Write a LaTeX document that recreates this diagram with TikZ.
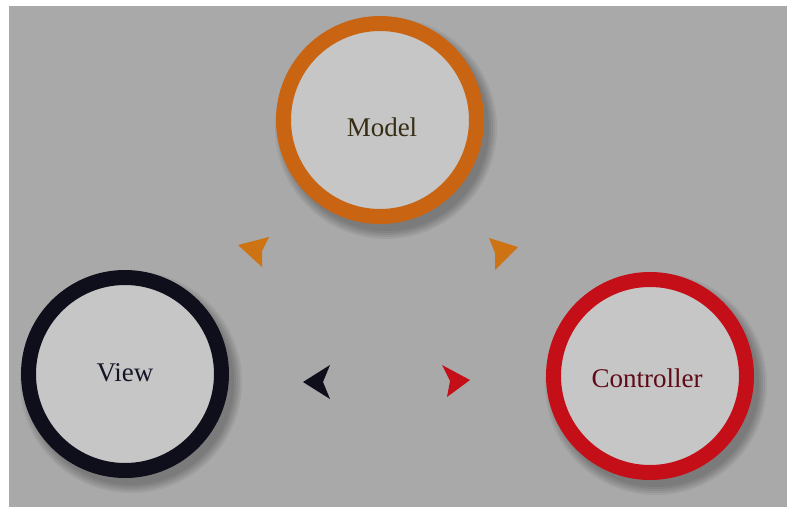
\documentclass[tikz,border=0pt]{standalone}
\usepackage{fontspec}
\setmainfont{Liberation Serif}
\definecolor{bg}{RGB}{169,169,169}
\definecolor{inner}{RGB}{198,198,198}
\definecolor{morange}{RGB}{200,100,18}
\definecolor{mtext}{RGB}{55,45,20}
\definecolor{vblack}{RGB}{15,15,28}
\definecolor{vtext}{RGB}{20,22,40}
\definecolor{cred}{RGB}{196,15,25}
\definecolor{ctext}{RGB}{95,10,22}
\definecolor{aorange}{RGB}{205,115,20}
\tikzset{
  ring/.style={circle, inner sep=0pt, minimum size=193pt, line width=15pt, fill=inner},
  lbl/.style={font=\fontsize{27}{30}\selectfont, inner sep=0pt},
  shad/.style={fill=black, opacity=0.06},
}
\begin{document}
\begin{tikzpicture}[x=1pt,y=-1pt]
\useasboundingbox (0,0) rectangle (787,507);
\fill[white] (0,0) rectangle (787,507);
\fill[bg] (9,6) rectangle (787,507);
% shadows
\foreach \cx/\cy in {380/120,125/374,650/376}{
  \foreach \r in {103,105,107,109,111}{
    \fill[shad] (\cx+6,\cy+8) circle[radius=\r];
  }
}
\node[ring, draw=morange, label={[lbl, text=mtext, yshift=-7pt, xshift=2pt]center:Model}] (model) at (380,120) {};
\node[ring, draw=vblack, label={[lbl, text=vtext, yshift=1pt]center:View}] (view) at (125,374) {};
\node[ring, draw=cred, label={[lbl, text=ctext, yshift=-2pt, xshift=-3pt]center:Controller}] (ctrl) at (650,376) {};
% arrowheads
\fill[aorange] (238,245) -- (269,237) -- (262,251) -- (262,267) -- cycle;
\fill[aorange] (518,247) -- (489,238) -- (495,253) -- (495,270) -- cycle;
\fill[vblack] (303,382) -- (330,365) -- (323,382) -- (330,399) -- cycle;
\fill[cred] (470,380) -- (442,365) -- (450,381) -- (447,397) -- cycle;
\end{tikzpicture}
\end{document}
